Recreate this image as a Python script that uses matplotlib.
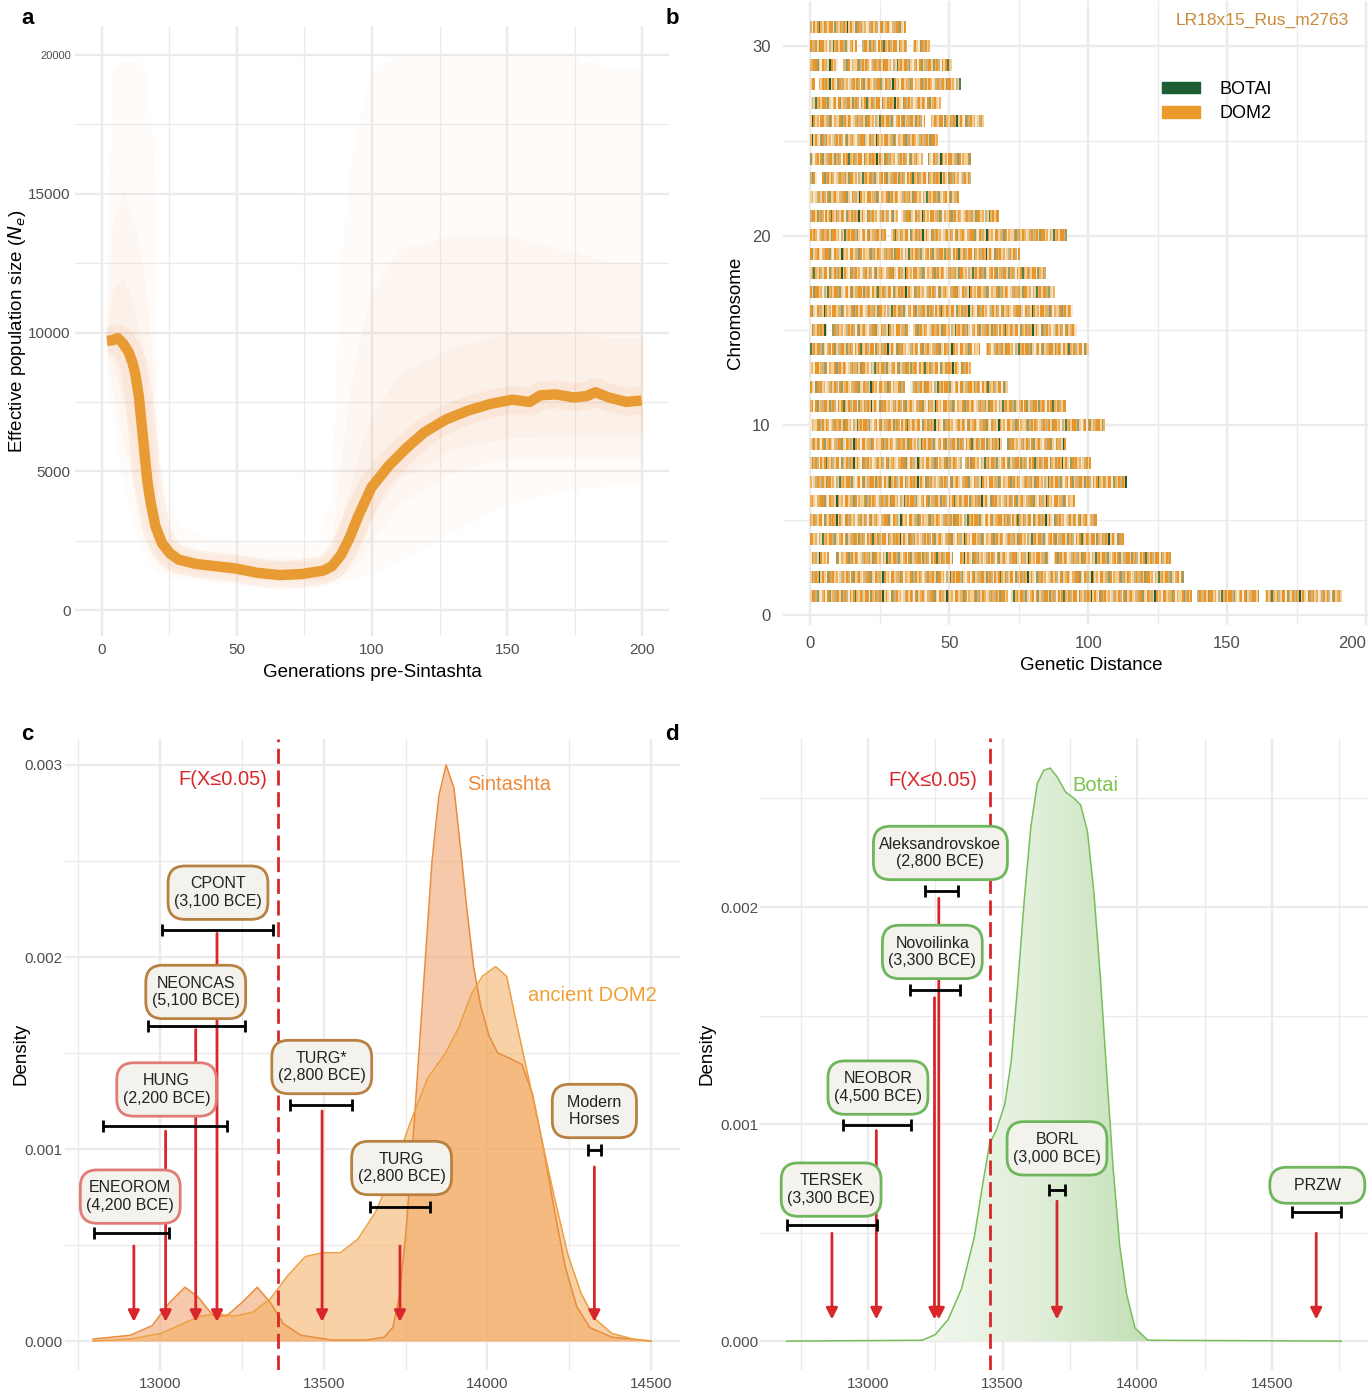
import numpy as np
import matplotlib.pyplot as plt
from matplotlib.patches import Patch, FancyBboxPatch
from matplotlib.colors import LinearSegmentedColormap, to_rgba
from matplotlib.transforms import IdentityTransform

plt.rcParams['font.family'] = ['Liberation Sans', 'DejaVu Sans']

W, H = 1368, 1391

# ---------------- panel a : Ne trajectory ----------------
gen = [2, 4, 6, 8, 10, 11.5, 12.5, 13.8, 15.4, 17, 18.3, 20, 22.4, 25.2, 28.4,
       34.9, 42, 49.5, 57.6, 65.7, 73.9, 82, 85.2, 88.5, 91.7, 95, 99.8, 106.3,
       112.8, 119.3, 127.4, 135.6, 143.7, 151.8, 158.3, 162.3, 168, 174.5, 179.4,
       182.6, 187.5, 194, 199.7]
ne = [9700, 9720, 9800, 9600, 9300, 8900, 8500, 7700, 6150, 4600, 3800, 3000, 2400,
      2050, 1820, 1660, 1580, 1500, 1340, 1260, 1295, 1420, 1580, 1975, 2600, 3400,
      4420, 5210, 5845, 6400, 6870, 7190, 7425, 7580, 7500, 7740, 7770, 7660, 7710,
      7850, 7660, 7500, 7550]

# faint cloud of replicate trajectories (envelopes)
env_x = [2, 4, 8, 12, 16, 19, 21, 24, 30, 40, 60, 80, 85, 88, 92, 96, 100, 110,
         130, 150, 170, 190, 200]
outer_hi = [12000, 19500, 19800, 19800, 19500, 17000, 6000, 4000, 3000, 2600, 2400,
            2500, 4000, 12000, 16000, 18000, 19500, 20000, 20000, 20000, 20000, 19500, 19500]
outer_lo = [8000, 7000, 4500, 3000, 2000, 1500, 1300, 1200, 1100, 1000, 900, 850, 900,
            1000, 1100, 1200, 1300, 1800, 2800, 3800, 4300, 4500, 4500]
mid_hi = [10500, 14000, 15000, 14000, 12000, 9000, 4000, 2800, 2200, 2000, 1900, 1900,
          2300, 5000, 8000, 10000, 11500, 13000, 13500, 13500, 13000, 12500, 12500]
mid_lo = [9000, 8000, 6000, 4500, 3000, 2000, 1600, 1400, 1300, 1200, 1050, 1000, 1050,
          1200, 1400, 1800, 2500, 3800, 5000, 5500, 5500, 5500, 5500]
core_hi = [10000, 11500, 12000, 11000, 9000, 6000, 3200, 2500, 2000, 1850, 1750, 1750,
           2000, 3000, 4500, 6000, 7000, 8500, 9500, 10000, 10000, 9800, 9800]
core_lo = [9300, 9000, 7500, 6000, 4000, 2500, 1900, 1600, 1450, 1350, 1150, 1100, 1150,
           1400, 1800, 2500, 3400, 4700, 5800, 6200, 6300, 6300, 6300]

# ---------------- panel b : chromosome painting ----------------
chrom_len = [191.3, 134.5, 129.7, 112.7, 103, 95, 114, 101, 91.9, 106, 91.9, 71.2, 57.7,
             100.2, 96, 94.6, 88, 84.8, 75.4, 92.2, 68, 53.3, 57.7, 57.7, 46, 62.4, 46.8,
             54.3, 51, 43, 34.2]
chrom_gaps = {1: [(71.5, 72.6), (137.3, 139.2), (161.7, 163.3)],
              3: [(7, 9.3), (51.3, 53.7), (86, 87.4)],
              8: [(54.6, 55.7)], 9: [(69.2, 70.8)], 12: [(34.2, 36.2)],
              14: [(61.4, 63)], 15: [(6.2, 7.8), (35.7, 37.3)], 20: [(27.2, 28.8)],
              21: [(31.6, 32.8)], 23: [(2.3, 4.2)], 24: [(40.4, 42)],
              26: [(41.2, 43.5)], 28: [(2, 3)], 29: [(10, 12)],
              30: [(17.1, 18.4), (35, 36.5)]}
stripe_pattern = ("OOtolgOpottOglOtOoptlOolOtgOOtopltGoOtOOlgtpoOpOgtolOOtgoOlpOtOGotOlt"
                  "OOpgotOlOoDtOtpgOlOtoptlOtOlpOgtoOtpolOOgtpOoltDOtop")
stripe_cols = {'O': '#E8952B', 'o': '#EEB25F', 't': '#F2D09C', 'p': '#F8EAD8',
               'l': '#C9B47F', 'g': '#9C9C60', 'G': '#537F4C', 'D': '#245D33'}

# ---------------- panel c : Sintashta / ancient DOM2 ----------------
sin_x = [12795, 12909, 12976, 13029, 13076, 13116, 13163, 13203, 13250, 13297, 13337,
         13377, 13430, 13524, 13631, 13685, 13711, 13731, 13751, 13771, 13791, 13811,
         13831, 13852, 13874, 13898, 13918, 13938, 13958, 13979, 14005, 14032, 14072,
         14106, 14139, 14172, 14206, 14239, 14273, 14313, 14380, 14500]
sin_y = [0.01, 0.03, 0.08, 0.20, 0.28, 0.23, 0.13, 0.13, 0.20, 0.28, 0.20, 0.09, 0.03,
         0.005, 0.005, 0.02, 0.07, 0.23, 0.56, 1.00, 1.50, 2.00, 2.50, 2.84, 3.00, 2.88,
         2.57, 2.24, 1.95, 1.75, 1.59, 1.50, 1.47, 1.44, 1.28, 1.00, 0.67, 0.38, 0.18,
         0.07, 0.02, 0.0]
dom_x = [12795, 12909, 13003, 13070, 13123, 13176, 13230, 13283, 13337, 13390, 13444,
         13497, 13551, 13604, 13658, 13711, 13765, 13818, 13872, 13912, 13952, 13985,
         14025, 14059, 14086, 14126, 14166, 14206, 14246, 14286, 14326, 14380, 14446, 14500]
dom_y = [0.0, 0.01, 0.04, 0.09, 0.13, 0.14, 0.13, 0.15, 0.22, 0.34, 0.44, 0.46, 0.46,
         0.53, 0.67, 0.88, 1.14, 1.37, 1.50, 1.63, 1.81, 1.90, 1.95, 1.90, 1.68, 1.37,
         1.05, 0.74, 0.45, 0.25, 0.12, 0.04, 0.01, 0.0]
c_cut = 13360
c_names = ["ENEOROM\n(4,200 BCE)", "HUNG\n(2,200 BCE)", "NEONCAS\n(5,100 BCE)",
           "CPONT\n(3,100 BCE)", "TURG*\n(2,800 BCE)", "TURG\n(2,800 BCE)",
           "  Modern  \n  Horses  "]
c_box_x = [12909, 13020, 13109, 13177, 13494, 13738, 14327]
c_box_y = [0.752, 1.31, 1.818, 2.335, 1.427, 0.901, 1.198]
c_err_lo = [12799, 12826, 12962, 13005, 13396, 13640, 14306]
c_err_hi = [13026, 13206, 13259, 13344, 13585, 13826, 14346]
c_err_y = [0.562, 1.12, 1.64, 2.14, 1.23, 0.696, 0.997]
c_arr_x = [12920, 13017, 13109, 13174, 13495, 13733, 14327]
c_arr_top = [0.495, 1.093, 1.622, 2.123, 1.198, 0.495, 0.907]
c_edge = ['#E27B76', '#E27B76', '#B98141', '#B98141', '#B98141', '#B98141', '#B98141']

# ---------------- panel d : Botai ----------------
bot_x = [12698, 13202, 13250, 13298, 13347, 13395, 13427, 13452, 13476, 13508, 13532,
         13556, 13581, 13605, 13629, 13653, 13677, 13702, 13734, 13766, 13790, 13815,
         13839, 13863, 13887, 13911, 13935, 13960, 13992, 14040, 14758]
bot_y = [0.0, 0.004, 0.03, 0.10, 0.24, 0.48, 0.73, 0.91, 0.97, 1.09, 1.29, 1.64, 2.04,
         2.37, 2.57, 2.63, 2.64, 2.60, 2.53, 2.50, 2.47, 2.35, 2.07, 1.68, 1.23, 0.79,
         0.44, 0.22, 0.06, 0.004, 0.0]
d_cut = 13455
d_names = ["TERSEK\n(3,300 BCE)", "NEOBOR\n(4,500 BCE)", "Novoilinka\n(3,300 BCE)",
           "Aleksandrovskoe\n(2,800 BCE)", "BORL\n(3,000 BCE)", "    PRZW    "]
d_box_x = [12863, 13037, 13239, 13269, 13702, 14669]
d_box_y = [0.698, 1.168, 1.793, 2.249, 0.888, 0.718]
d_err_lo = [12698, 12906, 13156, 13210, 13674, 14576]
d_err_hi = [13035, 13158, 13342, 13334, 13731, 14758]
d_err_y = [0.533, 0.996, 1.617, 2.075, 0.698, 0.596]
d_arr_x = [12866, 13031, 13247, 13263, 13702, 14665]
d_arr_top = [0.497, 0.97, 1.582, 2.04, 0.645, 0.497]

RED = '#D8262B'
GRID = '#EBEBEB'
TICK = '#4D4D4D'


def px_axes(l, t, r, b):
    return fig.add_axes([l / W, 1 - b / H, (r - l) / W, (b - t) / H])


def style(ax, xmaj, xmin, ymaj, ymin, ypad=3, xpad=5, size=11):
    ax.set_xticks(xmaj)
    ax.set_xticks(xmin, minor=True)
    ax.set_yticks(ymaj)
    ax.set_yticks(ymin, minor=True)
    ax.grid(which='major', color=GRID, lw=1.7)
    ax.grid(which='minor', color=GRID, lw=1.0)
    ax.set_axisbelow(True)
    for s in ax.spines.values():
        s.set_visible(False)
    ax.tick_params(which='both', length=0, labelsize=size, labelcolor=TICK)
    ax.tick_params(axis='y', pad=ypad)
    ax.tick_params(axis='x', pad=xpad)


fig = plt.figure(figsize=(W / 100, H / 100), dpi=100)

# ================= a =================
ax = px_axes(75, 26.4, 669, 636.4)
ax.fill_between(env_x, outer_lo, outer_hi, color='#F8A86E', alpha=0.035, lw=0)
ax.fill_between(env_x, mid_lo, mid_hi, color='#F8A86E', alpha=0.05, lw=0)
ax.fill_between(env_x, core_lo, core_hi, color='#F8A86E', alpha=0.06, lw=0)
ax.plot(gen, ne, color='#F6B080', lw=20, alpha=0.15, solid_capstyle='butt')
ax.plot(gen, ne, color='#E99B33', lw=7.5, solid_capstyle='butt', solid_joinstyle='round')
ax.set_xlim(-9.8, 209.8)
ax.set_ylim(-950, 21030)
style(ax, [0, 50, 100, 150, 200], [25, 75, 125, 175],
      [0, 5000, 10000, 15000, 20000], [2500, 7500, 12500, 17500])
ax.get_yticklabels()[-1].set_fontsize(8)
ax.set_xlabel('Generations pre-Sintashta', fontsize=13.5, labelpad=5)
ax.set_ylabel(r'Effective population size ($N_e$)', fontsize=13.5, labelpad=0)

# ================= b =================
ax = px_axes(783, 0.6, 1368, 625)
sw = 0.62
for i, L in enumerate(chrom_len):
    k = i + 1
    n = int(round(L / sw))
    idx = [(k * 37 + j) % len(stripe_pattern) for j in range(n)]
    rgba = np.array([to_rgba(stripe_cols[stripe_pattern[j]]) for j in idx])
    centers = (np.arange(n) + 0.5) * L / n
    for g0, g1 in chrom_gaps.get(k, []):
        rgba[(centers >= g0) & (centers <= g1), 3] = 0
    ax.imshow(rgba[None, :, :], extent=(0, L, k - 0.3, k + 0.3), aspect='auto',
              interpolation='nearest', zorder=2)
ax.set_xlim(-9.8, 200.7)
ax.set_ylim(-0.53, 32.39)
style(ax, [0, 50, 100, 150, 200], [25, 75, 125, 175], [0, 10, 20, 30], [5, 15, 25],
      ypad=9, xpad=8, size=12)
ax.get_xticklabels()[-1].set_ha('right')
ax.set_xlabel('Genetic Distance', fontsize=13.5)
ax.xaxis.set_label_coords((1091 - 783) / (1368 - 783), -(666 - 625) / 624.4)
ax.xaxis.label.set_va('center')
ax.set_ylabel('Chromosome', fontsize=13.5, labelpad=6)
ax.legend(handles=[Patch(color='#1E5C32', label='BOTAI'), Patch(color='#EC9A2C', label='DOM2')],
          loc='upper left', bbox_to_anchor=(1162 / W, 1 - 81 / H), bbox_transform=fig.transFigure,
          frameon=False, fontsize=13, handlelength=2.1, handleheight=0.6, handletextpad=1.1,
          labelspacing=0.4, borderpad=0, borderaxespad=0)
fig.text(1349 / W, 1 - 20 / H, 'LR18x15_Rus_m2763', ha='right', va='center',
         fontsize=12.5, color='#C98A3A')

box_texts = []


def labels(ax, names, bx, by, lo, hi, ey, axx, atop, edges):
    for i in range(len(names)):
        ax.annotate('', xy=(axx[i], 0.0001), xytext=(axx[i], atop[i] / 1000),
                    arrowprops=dict(arrowstyle='-|>,head_length=0.55,head_width=0.28',
                                    color=RED, lw=2.0, shrinkA=0, shrinkB=0,
                                    mutation_scale=12), zorder=4)
        c = (lo[i] + hi[i]) / 2
        ax.errorbar(c, ey[i] / 1000, xerr=[[c - lo[i]], [hi[i] - c]], color='black',
                    lw=2.0, capsize=4, capthick=2.0, zorder=5)
        t = ax.text(bx[i], by[i] / 1000, names[i], ha='center', va='center', fontsize=11.5,
                    linespacing=1.2, color='#222222', zorder=7)
        box_texts.append((ax, t, edges[i]))


# ================= c =================
ax = px_axes(64.8, 738.5, 679.8, 1370.2)
sy = np.array(sin_y) / 1000
dy = np.array(dom_y) / 1000
ax.fill_between(sin_x, 0, sy, color='#EF9E66', alpha=0.55, lw=0, zorder=2)
ax.fill_between(dom_x, 0, dy, color='#F4AE5E', alpha=0.55, lw=0, zorder=2)
ax.plot(sin_x, sy, color='#E98B3C', lw=1.1, zorder=3)
ax.plot(dom_x, dy, color='#EDA043', lw=1.1, zorder=3)
ax.axvline(c_cut, color=RED, lw=2.0, dashes=(5.4, 2.4), zorder=3)
labels(ax, c_names, c_box_x, c_box_y, c_err_lo, c_err_hi, c_err_y, c_arr_x, c_arr_top, c_edge)
ax.text(13192, 0.002922, 'F(X≤0.05)', color=RED, fontsize=14.5, ha='center', va='center')
ax.text(13937, 0.002896, 'Sintashta', color='#EE8A3A', fontsize=14.5, ha='left', va='center')
ax.text(14124, 0.001797, 'ancient DOM2', color='#F0A033', fontsize=14.5, ha='left', va='center')
ax.set_xlim(12709, 14588)
ax.set_ylim(-0.000152, 0.003138)
style(ax, [13000, 13500, 14000, 14500], [12750, 13250, 13750, 14250],
      [0, 0.001, 0.002, 0.003], [0.0005, 0.0015, 0.0025], ypad=2)
ax.set_yticklabels(['0.000', '0.001', '0.002', '0.003'])
ax.set_ylabel('Density', fontsize=13.5, labelpad=-4)

# ================= d =================
ax = px_axes(759.5, 737.7, 1369, 1370.2)
by_ = np.array(bot_y) / 1000
poly = ax.fill_between(bot_x, 0, by_, color='none', lw=0)
cmap = LinearSegmentedColormap.from_list('g', ['#F2F8EE', '#E1EFDA', '#C2DFB5'])
grad = ax.imshow(np.linspace(0, 1, 256)[None, :], extent=(13200, 14050, 0, 0.003),
                 aspect='auto', cmap=cmap, zorder=2)
grad.set_clip_path(poly.get_paths()[0], transform=ax.transData)
ax.plot(bot_x, by_, color='#78BE5A', lw=1.1, zorder=3)
ax.axvline(d_cut, color=RED, lw=2.0, dashes=(5.4, 2.4), zorder=3)
labels(ax, d_names, d_box_x, d_box_y, d_err_lo, d_err_hi, d_err_y, d_arr_x, d_arr_top,
       ['#6DB65B'] * len(d_names))
ax.text(13241, 0.002585, 'F(X≤0.05)', color=RED, fontsize=14.5, ha='center', va='center')
ax.text(13761, 0.002562, 'Botai', color='#7CC34E', fontsize=14.5, ha='left', va='center')
ax.set_xlim(12597, 14861)
ax.set_ylim(-0.000134, 0.00278)
style(ax, [13000, 13500, 14000, 14500], [12750, 13250, 13750, 14250, 14750],
      [0, 0.001, 0.002], [0.0005, 0.0015, 0.0025], ypad=1)
ax.set_yticklabels(['0.000', '0.001', '0.002'])
ax.set_ylabel('Density', fontsize=13.5, labelpad=3)

for t, x, y in [('a', 28, 18), ('b', 672, 18), ('c', 27, 735), ('d', 672, 735)]:
    fig.text(x / W, 1 - y / H, t, ha='center', va='center', fontsize=16, fontweight='bold')

# rounded label boxes sized around the text (pixel padding like the original)
fig.canvas.draw()
rend = fig.canvas.get_renderer()
for a, t, ec in box_texts:
    bb = t.get_window_extent(rend)
    xl, yl = a.get_xlim(), a.get_ylim()
    p = FancyBboxPatch((bb.x0 - 6, bb.y0 - 10.5), bb.width + 12, bb.height + 21,
                       boxstyle='round,pad=0,rounding_size=17', fc='#F4F2ED', ec=ec,
                       lw=2.0, transform=IdentityTransform(), zorder=6)
    a.add_patch(p)
    a.set_xlim(xl)
    a.set_ylim(yl)

fig.savefig('out.png', dpi=100)
